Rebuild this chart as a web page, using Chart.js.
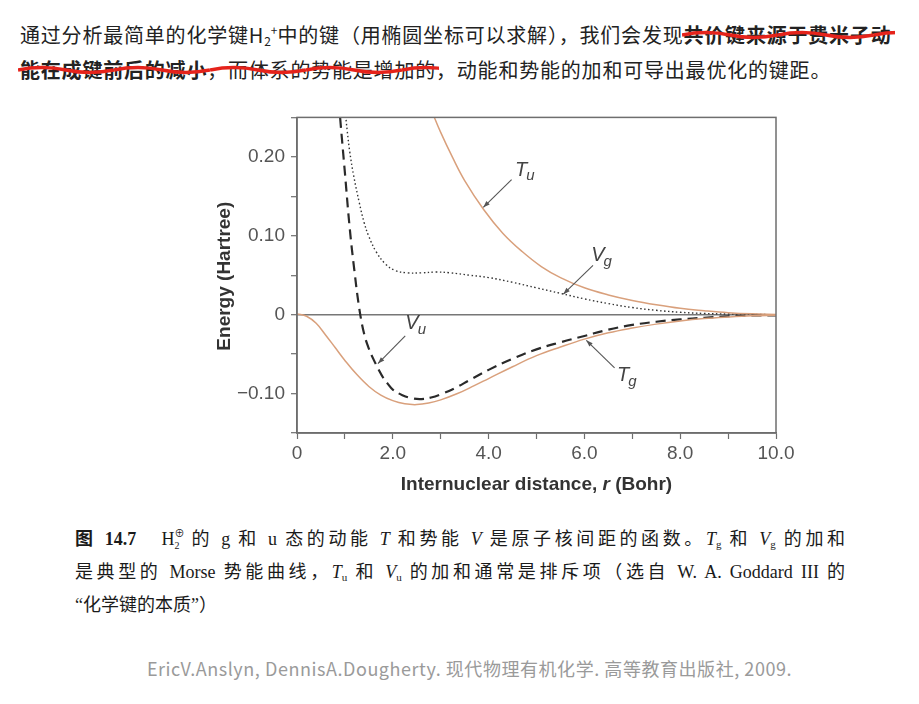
<!DOCTYPE html>
<html>
<head>
<meta charset="utf-8">
<script src="https://cdn.jsdelivr.net/npm/chart.js@4.4.1/dist/chart.umd.min.js"></script>
<style>
html, body { margin: 0; padding: 0; background: #fff; width: 919px; height: 704px; overflow: hidden; }
.intro { position: absolute; left: 20px; top: 17px; font-family: "Noto Sans CJK SC", "Noto Sans", sans-serif; font-size: 20px; line-height: 35px; color: #222; letter-spacing: 0.8px; white-space: nowrap; }
.intro > div { height: 35px; }
.intro b { font-weight: 700; }
.intro .sm { font-size: 12px; letter-spacing: 0; line-height: 0; }
.intro .lo { vertical-align: -3px; }
.intro .hi { vertical-align: 8px; }
.strike { position: relative; }
.strike::after {
    content: ''; position: absolute; left: -2px; right: -3px; top: 50%; height: 12px; margin-top: -6px;
    background: url("data:image/svg+xml,%3Csvg xmlns='http://www.w3.org/2000/svg' width='96' height='12'%3E%3Cpath d='M0 6 Q24 1 48 6 T96 6' fill='none' stroke='%23e5231b' stroke-width='3.6'/%3E%3C/svg%3E") repeat-x 0 0;
}
#wrap { position: absolute; left: 200px; top: 100px; width: 620px; height: 410px; }
.caption { position: absolute; left: 75px; top: 523px; width: 770px; font-family: "Liberation Serif", "Noto Sans CJK SC", serif; font-size: 18px; line-height: 33px; color: #1a1a1a; }
.caption div { text-align: justify; text-align-last: justify; white-space: nowrap; }
.caption div.last { text-align-last: left; }
.caption sub { font-size: 11px; vertical-align: -3px; line-height: 0; }
.caption .hs { display: inline-block; position: relative; width: 9px; height: 10px; }
.caption .hs span { position: absolute; left: 0; font-size: 10px; line-height: 10px; }
.source { position: absolute; left: 10px; top: 655px; width: 919px; text-align: center; font-family: "Noto Sans CJK SC", sans-serif; font-size: 18px; letter-spacing: 0.55px; color: #9a9a9a; }
</style>
</head>
<body>
<div class="intro">
  <div>通过分析最简单的化学键H<span class="sm lo">2</span><span class="sm hi">+</span>中的键（用椭圆坐标可以求解），我们会发现<b class="strike">共价键来源于费米子动</b></div>
  <div><span class="strike"><b>能在成键前后的减小</b>，而体系的势能是增加的</span>，动能和势能的加和可导出最优化的键距。</div>
</div>

<div id="wrap"><canvas id="energyChart"></canvas></div>

<div class="caption">
  <div><b>图 14.7</b>　H<span class="hs"><span style="top:-6px">⊕</span><span style="top:6px">2</span></span> 的 g 和 u 态的动能 <i>T</i> 和势能 <i>V</i> 是原子核间距的函数。<i>T</i><sub>g</sub> 和 <i>V</i><sub>g</sub> 的加和</div>
  <div>是典型的 Morse 势能曲线，<i>T</i><sub>u</sub> 和 <i>V</i><sub>u</sub> 的加和通常是排斥项（选自 W. A. Goddard III 的</div>
  <div class="last">“化学键的本质”）</div>
</div>

<div class="source">EricV.Anslyn, DennisA.Dougherty. 现代物理有机化学. 高等教育出版社, 2009.</div>

<script>
// curves: r in Bohr, energy in Hartree
const tgR = [0, 0.2, 0.4, 0.6, 0.8, 1.0, 1.25, 1.5, 1.75, 2.0, 2.25, 2.5, 2.75, 3.0, 3.35, 3.7, 4.0, 4.5, 5.0, 5.5, 6.0, 6.5, 7.0, 7.5, 8.0, 8.5, 9.0, 9.5, 10.0];
const tgE = [0.001, -0.002, -0.011, -0.026, -0.042, -0.058, -0.076, -0.091, -0.102, -0.109, -0.113, -0.114, -0.112, -0.108, -0.100, -0.090, -0.081, -0.066, -0.052, -0.041, -0.031, -0.023, -0.017, -0.012, -0.008, -0.005, -0.003, -0.0015, -0.0008];

const vuR = [0.85, 0.9, 1.0, 1.1, 1.2, 1.3, 1.4, 1.5, 1.6, 1.7, 1.8, 1.9, 2.0, 2.2, 2.4, 2.6, 2.8, 3.0, 3.3, 3.6, 4.0, 4.5, 5.0, 5.5, 6.0, 6.5, 7.0, 7.5, 8.0, 8.5, 9.0, 9.5, 10.0];
const vuE = [0.29, 0.25, 0.18, 0.11, 0.055, 0.008, -0.024, -0.043, -0.057, -0.069, -0.080, -0.088, -0.095, -0.102, -0.106, -0.107, -0.105, -0.101, -0.093, -0.083, -0.070, -0.056, -0.044, -0.035, -0.027, -0.019, -0.013, -0.009, -0.006, -0.004, -0.002, -0.001, -0.001];

const vgR = [1.0, 1.05, 1.1, 1.18, 1.3, 1.4, 1.5, 1.66, 1.85, 2.05, 2.3, 2.6, 2.9, 3.2, 3.6, 4.0, 4.5, 5.0, 5.5, 6.0, 6.5, 7.0, 7.5, 8.0, 8.5, 9.0, 9.5, 10.0];
const vgE = [0.262, 0.232, 0.207, 0.177, 0.142, 0.117, 0.099, 0.079, 0.064, 0.056, 0.053, 0.053, 0.054, 0.053, 0.050, 0.047, 0.041, 0.034, 0.027, 0.020, 0.014, 0.009, 0.0055, 0.003, 0.0015, 0.0008, 0.0003, 0];

const tuR = [2.8, 3.0, 3.25, 3.5, 3.9, 4.3, 4.7, 5.1, 5.5, 6.0, 6.5, 7.0, 7.5, 8.0, 8.5, 9.0, 9.5, 10.0];
const tuE = [0.26, 0.231, 0.199, 0.170, 0.133, 0.103, 0.080, 0.061, 0.047, 0.034, 0.025, 0.018, 0.0125, 0.008, 0.005, 0.0025, 0.001, 0.0003];

// curve labels with their pointer arrows, in data units
const curveLabels = [
    { name: 'T', sub: 'u', at: [4.68, 0.183], from: [4.48, 0.171], to: [3.89, 0.136] },
    { name: 'V', sub: 'g', at: [6.28, 0.075], from: [6.18, 0.0625], to: [5.56, 0.026] },
    { name: 'V', sub: 'u', at: [2.40, -0.011], from: [2.26, -0.027], to: [1.69, -0.062] },
    { name: 'T', sub: 'g', at: [6.81, -0.077], from: [6.63, -0.0675], to: [6.04, -0.0325] }
];

function toPoints(r, e) {
    return r.map((x, i) => ({ x: x, y: e[i] }));
}

const axisColor = '#6e6e6e';
const tickFont = { family: 'Liberation Sans, Arial, sans-serif', size: 19 };

const decorPlugin = {
    id: 'decor',
    afterDraw(chart) {
        const { ctx, chartArea: a, scales: { x, y } } = chart;
        ctx.save();

        // box round the plot
        ctx.strokeStyle = axisColor;
        ctx.lineWidth = 1.5;
        ctx.strokeRect(a.left, a.top, a.right - a.left, a.bottom - a.top);

        // labels and arrows
        curveLabels.forEach(l => {
            const x0 = x.getPixelForValue(l.from[0]), y0 = y.getPixelForValue(l.from[1]);
            const x1 = x.getPixelForValue(l.to[0]), y1 = y.getPixelForValue(l.to[1]);
            ctx.strokeStyle = '#555';
            ctx.fillStyle = '#555';
            ctx.lineWidth = 1.1;
            ctx.beginPath();
            ctx.moveTo(x0, y0);
            ctx.lineTo(x1, y1);
            ctx.stroke();
            const ang = Math.atan2(y1 - y0, x1 - x0);
            ctx.beginPath();
            ctx.moveTo(x1, y1);
            ctx.lineTo(x1 - 7 * Math.cos(ang - 0.35), y1 - 7 * Math.sin(ang - 0.35));
            ctx.lineTo(x1 - 7 * Math.cos(ang + 0.35), y1 - 7 * Math.sin(ang + 0.35));
            ctx.closePath();
            ctx.fill();

            const tx = x.getPixelForValue(l.at[0]), ty = y.getPixelForValue(l.at[1]);
            ctx.fillStyle = '#444';
            ctx.textBaseline = 'middle';
            ctx.textAlign = 'center';
            ctx.font = 'italic 20px Liberation Sans, Arial, sans-serif';
            ctx.fillText(l.name, tx, ty);
            const w = ctx.measureText(l.name).width;
            ctx.font = 'italic 15px Liberation Sans, Arial, sans-serif';
            ctx.textAlign = 'left';
            ctx.fillText(l.sub, tx + w / 2 - 1, ty + 6);
        });

        // axis titles
        ctx.fillStyle = '#333';
        ctx.textBaseline = 'middle';
        ctx.save();
        ctx.translate(25, (a.top + a.bottom) / 2 + 1);
        ctx.rotate(-Math.PI / 2);
        ctx.textAlign = 'center';
        ctx.font = 'bold 19px Liberation Sans, Arial, sans-serif';
        ctx.fillText('Energy (Hartree)', 0, 0);
        ctx.restore();

        const parts = [
            { t: 'Internuclear distance, ', f: 'bold 19px Liberation Sans, Arial, sans-serif' },
            { t: 'r', f: 'italic bold 19px Liberation Sans, Arial, sans-serif' },
            { t: ' (Bohr)', f: 'bold 19px Liberation Sans, Arial, sans-serif' }
        ];
        let total = 0;
        parts.forEach(p => { ctx.font = p.f; p.w = ctx.measureText(p.t).width; total += p.w; });
        let px = (a.left + a.right) / 2 - total / 2;
        ctx.textAlign = 'left';
        parts.forEach(p => { ctx.font = p.f; ctx.fillText(p.t, px, a.bottom + 52); px += p.w; });

        ctx.restore();
    }
};

const ctx = document.getElementById('energyChart').getContext('2d');

let chart = new Chart(ctx, {
    type: 'line',
    data: {
        datasets: [
            {
                label: 'Tg',
                data: toPoints(tgR, tgE),
                borderColor: '#d9a07c',
                borderWidth: 1.5
            },
            {
                label: 'Tu',
                data: toPoints(tuR, tuE),
                borderColor: '#d9a07c',
                borderWidth: 1.5
            },
            {
                label: 'Vg',
                data: toPoints(vgR, vgE),
                borderColor: '#333',
                borderWidth: 1.4,
                borderDash: [1.5, 2.5]
            },
            {
                label: 'Vu',
                data: toPoints(vuR, vuE),
                borderColor: '#2a2a2a',
                borderWidth: 2.2,
                borderDash: [10, 6]
            }
        ]
    },
    options: {
        responsive: true,
        maintainAspectRatio: false,
        animation: false,
        layout: { padding: { top: 13, right: 44, left: 0, bottom: 0 } },
        elements: {
            point: { radius: 0 },
            line: { tension: 0.4, fill: false }
        },
        plugins: {
            legend: { display: false },
            tooltip: { enabled: false }
        },
        scales: {
            x: {
                type: 'linear',
                min: 0,
                max: 10,
                afterFit: s => { s.height = 77; },
                border: { color: axisColor, width: 1.5 },
                grid: { drawOnChartArea: false, tickColor: axisColor, tickLength: 6, tickWidth: 1.2 },
                ticks: {
                    stepSize: 1,
                    padding: 3,
                    color: '#555',
                    font: tickFont,
                    maxRotation: 0,
                    autoSkip: false,
                    callback: v => (v % 2 !== 0 ? '' : (v === 0 ? '0' : v.toFixed(1)))
                }
            },
            y: {
                min: -0.15,
                max: 0.25,
                afterFit: s => { s.width = 97; },
                border: { color: axisColor, width: 1.5 },
                grid: {
                    color: c => (Math.abs(c.tick.value) < 1e-9 ? '#777' : 'rgba(0,0,0,0)'),
                    lineWidth: 1.4,
                    tickColor: axisColor,
                    tickLength: 6,
                    tickWidth: 1.2
                },
                ticks: {
                    stepSize: 0.05,
                    padding: 6,
                    color: '#555',
                    font: tickFont,
                    autoSkip: false,
                    callback: v => {
                        const k = Math.round(v * 100);
                        if (k % 10 !== 0) return '';
                        if (k === 0) return '0';
                        return (k < 0 ? '\u2212' : '') + Math.abs(k / 100).toFixed(2);
                    }
                }
            }
        }
    },
    plugins: [decorPlugin]
});
</script>
</body>
</html>
